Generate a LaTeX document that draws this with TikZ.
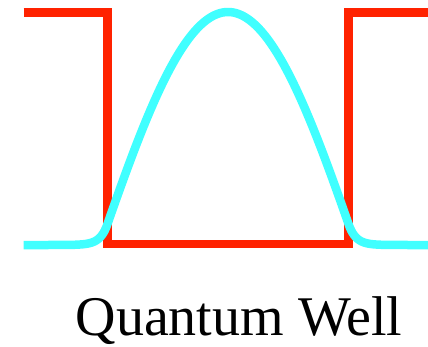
\documentclass[tikz,border=0pt]{standalone}
\usepackage{fontspec}
\setmainfont{Liberation Serif}
\definecolor{wellred}{HTML}{FF2200}
\definecolor{wavecyan}{HTML}{40FFFF}
\begin{document}
\begin{tikzpicture}[x=1pt,y=-1pt,
  wellline/.style={draw=wellred,line width=8.5pt,line join=miter},
  waveline/.style={draw=wavecyan,line width=8.5pt,line join=round}]
\useasboundingbox (0,0) rectangle (428,346);
\coordinate (a) at (23.5,12.5);
\coordinate (b) at (107.5,12.5);
\coordinate (c) at (107.5,244);
\coordinate (d) at (348.5,244);
\coordinate (e) at (348.5,12.5);
\coordinate (f) at (428,12.5);
\draw[wellline] (a) -- (b) -- (c) -- (d) -- (e) -- (f);
\draw[waveline]
  plot[domain=23.5:107.5,samples=60] (\x,{245-21*exp(0.136*(\x-107.5))})
  -- plot[domain=107.5:348.5,samples=120] (\x,{245-233*cos(0.01228*(\x-228) r)})
  -- plot[domain=348.5:428,samples=60] (\x,{245-21*exp(-0.136*(\x-348.5))});
\node[anchor=base,font=\fontsize{56}{60}\selectfont,inner sep=0pt] (label) at (239,335) {Quantum Well};
\end{tikzpicture}
\end{document}
